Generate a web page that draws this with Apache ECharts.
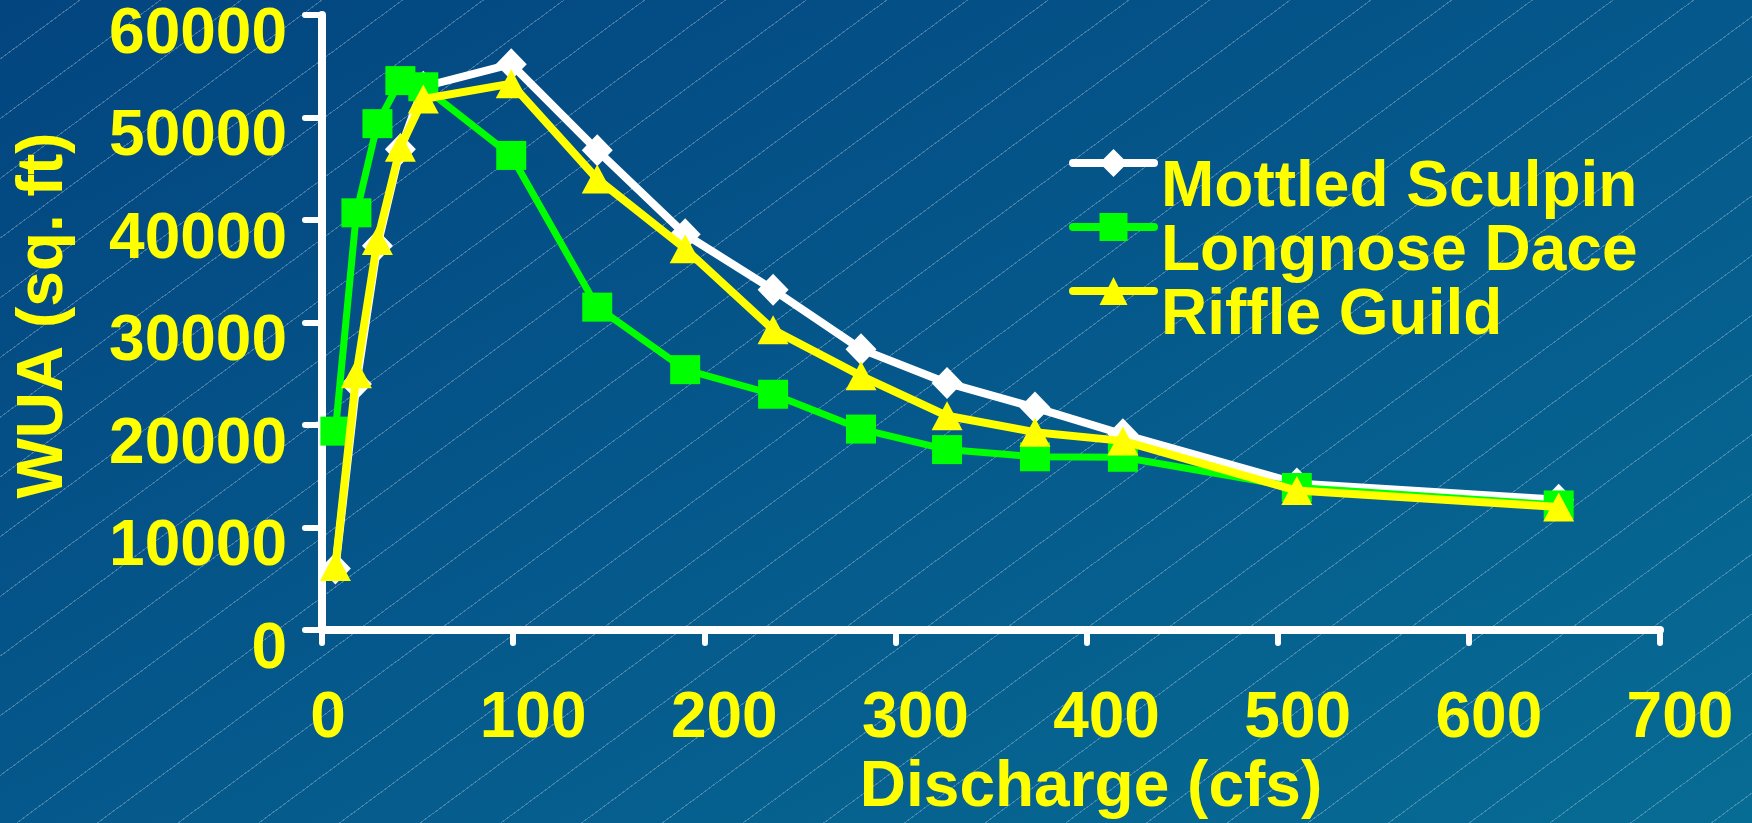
<!DOCTYPE html>
<html>
<head>
<meta charset="utf-8">
<script src="https://cdn.jsdelivr.net/npm/echarts@6/dist/echarts.min.js"></script>
<style>
html, body { margin: 0; padding: 0; }
#chart {
  width: 1752px; height: 823px;
  background:
    repeating-linear-gradient(143.5deg, rgba(0,0,0,0) 0px, rgba(0,0,0,0) 47px, rgba(185,205,225,0.35) 47px, rgba(185,205,225,0.35) 48px),
    linear-gradient(to bottom right, #03457f 0%, #05588b 50%, #076c94 100%);
}
</style>
</head>
<body>
<div id="chart"></div>
<script>
// Discharge (cfs) at each sampled point
const discharge = [7, 18, 29, 41, 53, 99, 144, 190, 236, 282, 327, 373, 419, 510, 647];
// WUA (sq. ft) per species / guild
const mottledSculpin = [6000, 24000, 37500, 46900, 53000, 55200, 46800, 38600, 33200, 27400, 24100, 21700, 19100, 14300, 12700];
const longnoseDace   = [19400, 40700, 49400, 53600, 53000, 46300, 31500, 25400, 23000, 19600, 17600, 16900, 16850, 13900, 12200];
const riffleGuild    = [6200, 25000, 38000, 47100, 51800, 53300, 44000, 37200, 29300, 24800, 20900, 19300, 18450, 13600, 12000];
const seriesNames = ['Mottled Sculpin', 'Longnose Dace', 'Riffle Guild'];
const xAxisTitle = 'Discharge (cfs)';
const yAxisTitle = 'WUA (sq. ft)';

const FONT = '"Liberation Sans", Arial, sans-serif';
const txt = {
  color: '#FFFF00', fontFamily: FONT, fontWeight: 'bold', fontSize: 64,
  textShadowColor: '#000000', textShadowOffsetX: 3, textShadowOffsetY: 3, textShadowBlur: 0
};
const pairs = ys => discharge.map((x, i) => [x, ys[i]]);

const chart = echarts.init(document.getElementById('chart'), null, { renderer: 'canvas' });
chart.setOption({
  backgroundColor: 'transparent',
  animation: false,
  grid: { left: 322, right: 92, top: 15, bottom: 193, containLabel: false, outerBoundsMode: 'none' },
  legend: {
    orient: 'vertical', left: 1069, top: 126, padding: 0, itemGap: -30,
    itemWidth: 81, itemHeight: 35,
    lineStyle: { width: 8, cap: 'round' },
    formatter: name => '{s| }\n{t|' + name + '}',
    textStyle: Object.assign({}, txt, {
      rich: {
        s: { fontSize: 10, lineHeight: 50 },
        t: Object.assign({}, txt, { lineHeight: 64, padding: [0, 0, 0, 2] })
      }
    }),
    data: seriesNames
  },
  xAxis: {
    type: 'value', min: 0, max: 700, interval: 100,
    name: xAxisTitle, nameLocation: 'middle', nameGap: 124,
    nameTextStyle: Object.assign({}, txt, { lineHeight: 64, padding: [0, 0, 0, 200] }),
    axisLine: { show: true, onZero: false, lineStyle: { color: '#FFFFFF', width: 8, cap: 'round' } },
    axisTick: { show: true, inside: false, length: 13, lineStyle: { color: '#FFFFFF', width: 6, cap: 'round' } },
    axisLabel: Object.assign({}, txt, {
      margin: 57, lineHeight: 64, showMinLabel: true, showMaxLabel: true,
      formatter: v => (v === 0 ? '{z|0}' : '{n|' + v + '}'),
      rich: {
        z: Object.assign({}, txt, { lineHeight: 64, padding: [0, 0, 0, 12] }),
        n: Object.assign({}, txt, { lineHeight: 64, padding: [0, 0, 0, 40] })
      }
    }),
    splitLine: { show: false }
  },
  yAxis: {
    type: 'value', min: 0, max: 60000, interval: 10000,
    name: yAxisTitle, nameLocation: 'middle', nameGap: 246, nameRotate: 90,
    nameTextStyle: Object.assign({}, txt, { lineHeight: 64, padding: [0, 0, 0, 14] }),
    axisLine: { show: true, lineStyle: { color: '#FFFFFF', width: 8, cap: 'round' } },
    axisTick: { show: true, inside: false, length: 17, lineStyle: { color: '#FFFFFF', width: 6, cap: 'round' } },
    axisLabel: Object.assign({}, txt, { margin: 35, lineHeight: 40, verticalAlign: 'top',
      showMinLabel: true, showMaxLabel: true, formatter: v => String(v) }),
    splitLine: { show: false }
  },
  series: [
    {
      name: seriesNames[0], type: 'line', data: pairs(mottledSculpin),
      symbol: 'diamond', symbolSize: [31, 32], showSymbol: true,
      lineStyle: { color: '#FFFFFF', width: 8 }, itemStyle: { color: '#FFFFFF' }, z: 2
    },
    {
      name: seriesNames[1], type: 'line', data: pairs(longnoseDace),
      symbol: 'rect', symbolSize: [30, 29], showSymbol: true,
      lineStyle: { color: '#00FF00', width: 7 }, itemStyle: { color: '#00FF00' }, z: 3
    },
    {
      name: seriesNames[2], type: 'line', data: pairs(riffleGuild),
      symbol: 'triangle', symbolSize: [31, 29], showSymbol: true,
      lineStyle: { color: '#FFFF00', width: 8 }, itemStyle: { color: '#FFFF00' }, z: 4
    }
  ]
});
</script>
</body>
</html>
